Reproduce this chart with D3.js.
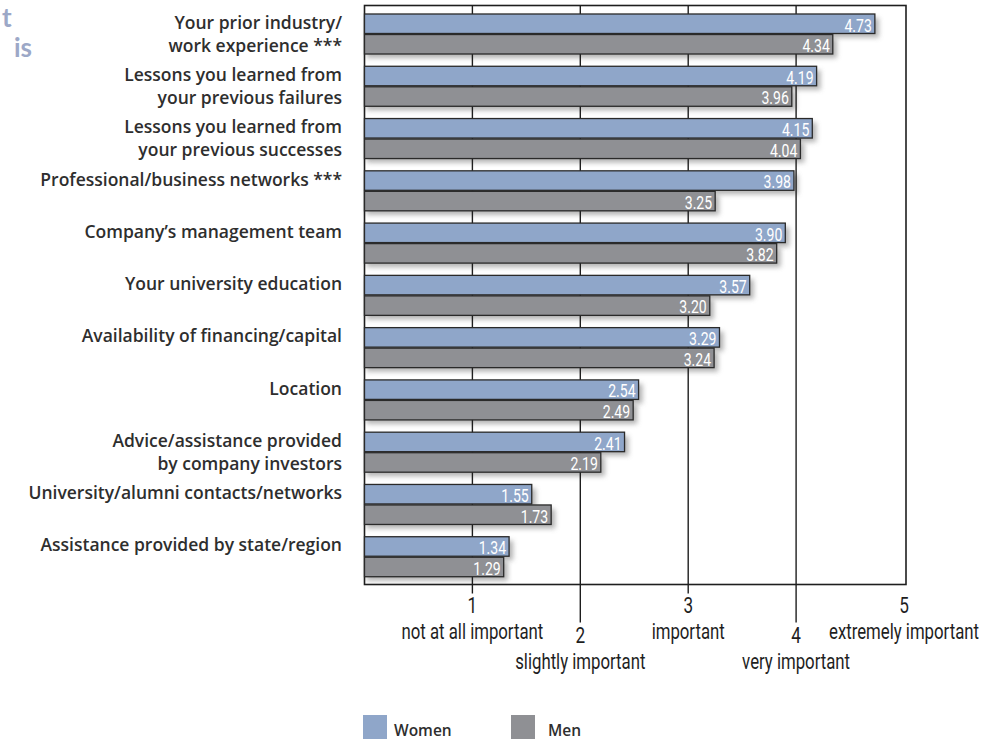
<!DOCTYPE html>
<html>
  <head>
    <meta charset="utf-8" />
    <title>importance of factors, women vs men</title>
    <script src="https://d3js.org/d3.v7.min.js"></script>
    <style>
      body { margin: 0; background: #fff; }
      .cat { font-family: "Open Sans", Lato, sans-serif; font-weight: 600; fill: #2e2e2e; }
      .cond { font-family: Roboto, "DejaVu Sans", sans-serif; }
    </style>
  </head>
  <body>
    <script>
      // labels (wrapped lines)
      const categories = [
        ["Your prior industry/", "work experience ***"],
        ["Lessons you learned from", "your previous failures"],
        ["Lessons you learned from", "your previous successes"],
        ["Professional/business networks ***"],
        ["Company\u2019s management team"],
        ["Your university education"],
        ["Availability of financing/capital"],
        ["Location"],
        ["Advice/assistance provided", "by company investors"],
        ["University/alumni contacts/networks"],
        ["Assistance provided by state/region"]
      ];
      const women = [4.73, 4.19, 4.15, 3.98, 3.9, 3.57, 3.29, 2.54, 2.41, 1.55, 1.34];
      const men = [4.34, 3.96, 4.04, 3.25, 3.82, 3.2, 3.24, 2.49, 2.19, 1.73, 1.29];
      const tickValues = [1, 2, 3, 4, 5];
      const tickLabels = ["not at all important", "slightly important", "important", "very important", "extremely important"];
      const seriesNames = ["Women", "Men"];
      const colors = { Women: "#8fa6c9", Men: "#8f9094" };

      const width = 984, height = 740;
      const squeeze = 0.78; // fake a condensed face
      const svg = d3.select("body").append("svg")
        .attr("width", width).attr("height", height);

      // drop shadow blur
      svg.append("defs").append("filter").attr("id", "blur")
        .attr("x", "-10%").attr("y", "-50%").attr("width", "120%").attr("height", "200%")
        .append("feGaussianBlur").attr("stdDeviation", 2.5);

      const frameTop = 5.5, frameBottom = 584.5;
      const x = d3.scaleLinear().domain([0, 5]).range([364.5, 904]);
      const y = d3.scaleBand().domain(d3.range(categories.length)).range([5, 580]);
      const y1 = d3.scaleBand().domain(seriesNames).range([9, 49]).paddingInner(0.05);

      const rows = [];
      categories.forEach((c, i) => {
        rows.push({ i, s: "Women", v: women[i] });
        rows.push({ i, s: "Men", v: men[i] });
      });

      // title fragments at left edge (rest of the title is cut off)
      const title = svg.append("g").attr("font-family", "Lato, sans-serif")
        .attr("font-weight", 700).attr("font-size", 26).attr("fill", "#9ca8c7");
      title.append("text").attr("x", 2).attr("y", 27).text("t");
      title.append("text").attr("x", 14).attr("y", 57).text("is");

      // shadows
      svg.append("g").selectAll("rect").data(rows).join("rect")
        .attr("x", x(0) + 2)
        .attr("y", d => y(d.i) + y1(d.s) + 4)
        .attr("width", d => x(d.v) - x(0) + 2)
        .attr("height", y1.bandwidth())
        .attr("fill", "#9a9a9a")
        .attr("opacity", 0.75)
        .attr("filter", "url(#blur)");

      // gridlines
      svg.append("g").selectAll("line").data(tickValues.slice(0, 4)).join("line")
        .attr("x1", d => x(d)).attr("x2", d => x(d))
        .attr("y1", frameTop)
        .attr("y2", d => d % 2 ? frameBottom + 9 : frameBottom + 38)
        .attr("stroke", "#1e1e1e").attr("stroke-width", 1.4);

      // frame
      svg.append("rect")
        .attr("x", x(0)).attr("y", frameTop)
        .attr("width", x(5) + 2 - x(0)).attr("height", frameBottom - frameTop)
        .attr("fill", "none").attr("stroke", "#1e1e1e").attr("stroke-width", 1.6);

      // bars
      svg.append("g").selectAll("rect").data(rows).join("rect")
        .attr("x", x(0))
        .attr("y", d => y(d.i) + y1(d.s))
        .attr("width", d => x(d.v) - x(0))
        .attr("height", y1.bandwidth())
        .attr("fill", d => colors[d.s])
        .attr("stroke", "#2a2a2a").attr("stroke-width", 1.3);

      // values
      svg.append("g").selectAll("text").data(rows).join("text")
        .attr("class", "cond")
        .attr("transform", d => `translate(${x(d.v) - 3},${y(d.i) + y1(d.s) + y1.bandwidth() / 2 + 1}) scale(${squeeze - 0.04},1)`)
        .attr("text-anchor", "end")
        .attr("dominant-baseline", "central")
        .attr("font-size", 19)
        .attr("fill", "#fff")
        .text(d => d.v.toFixed(2));

      // category labels
      const cat = svg.append("g").selectAll("text").data(categories).join("text")
        .attr("class", "cat")
        .attr("text-anchor", "end")
        .attr("font-size", 17.5);
      cat.selectAll("tspan").data((d, i) => d.map((t, k) => ({ t, k, i }))).join("tspan")
        .attr("x", 342)
        .attr("y", d => y(d.i) + y1("Women") + y1.bandwidth() / 2 + 5 + d.k * 23)
        .text(d => d.t);

      // axis numbers and descriptions
      const ax = svg.append("g").attr("class", "cond").attr("fill", "#1e1e1e")
        .attr("text-anchor", "middle");
      ax.selectAll("text.num").data(tickValues).join("text")
        .attr("class", "num")
        .attr("transform", d => `translate(${x(d)},${d % 2 ? frameBottom + 28 : frameBottom + 58}) scale(${squeeze},1)`)
        .attr("font-size", 22)
        .text(d => d);
      ax.selectAll("text.desc").data(tickValues).join("text")
        .attr("class", "desc")
        .attr("transform", d => `translate(${x(d)},${d % 2 ? frameBottom + 54 : frameBottom + 84}) scale(${squeeze},1)`)
        .attr("font-size", 21.5)
        .text((d, i) => tickLabels[i]);

      // legend
      const lg = svg.append("g").selectAll("g").data(seriesNames).join("g")
        .attr("transform", (d, i) => `translate(${363 + i * 148},715)`);
      lg.append("rect").attr("width", 24).attr("height", 24).attr("fill", d => colors[d]);
      lg.append("text").attr("class", "cat")
        .attr("x", (d, i) => i ? 37 : 31).attr("y", 21)
        .attr("font-size", 15.5)
        .text(d => d);
    </script>
  </body>
</html>
